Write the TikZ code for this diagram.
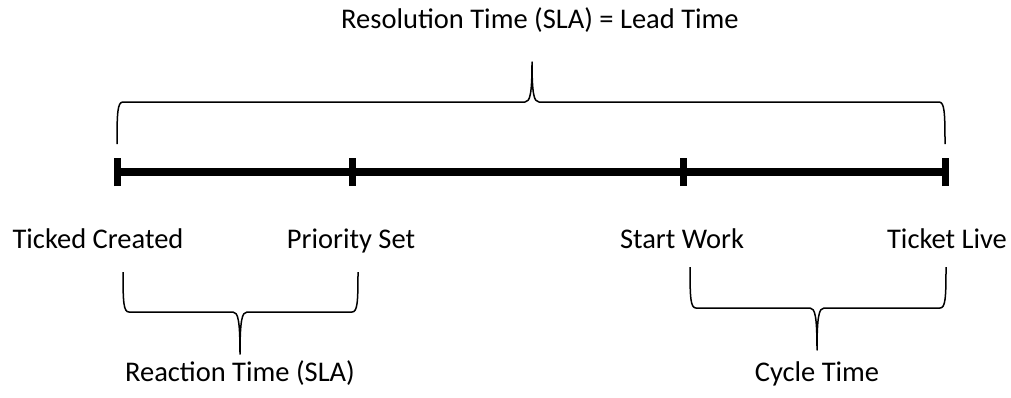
\documentclass[tikz,border=0pt]{standalone}
\usepackage{fontspec}
\setmainfont{Carlito}
\tikzset{
  axis/.style={line width=7.5pt},
  tickmark/.style={line width=7pt},
  bracket/.style={line width=1.5pt, line join=round},
  lbl/.style={font=\fontsize{28.5}{32}\selectfont, anchor=base, inner sep=0pt},
}
% curly brace: #1 left x, #2 right x, #3 middle x, #4 end y, #5 bar y, #6 tip y
\newcommand\curlybrace[6]{%
  \draw[bracket] (#1,#4)
    .. controls (#1,{#5+0.25*(#4-#5)}) and ({#1+0.5},#5) .. ({#1+6},#5)
    -- ({#3-7},#5)
    .. controls ({#3-2},#5) and (#3,{#5+0.2*(#6-#5)}) .. (#3,#6)
    .. controls (#3,{#5+0.2*(#6-#5)}) and ({#3+2},#5) .. ({#3+7},#5)
    -- ({#2-6},#5)
    .. controls ({#2-0.5},#5) and (#2,{#5+0.25*(#4-#5)}) .. (#2,#4);}
\begin{document}
\begin{tikzpicture}[x=1pt,y=-1pt]
\useasboundingbox (0,0) rectangle (1011,397);
% timeline points
\coordinate (created) at (117,172);
\coordinate (priority) at (352,172);
\coordinate (start) at (683,172);
\coordinate (live) at (945,172);
\draw[axis] (created) -- (live);
\foreach \p in {created,priority,start,live}
  \draw[tickmark] ([yshift=-14pt]\p) -- ([yshift=14pt]\p);
% point labels
\node[lbl] (lcreated) at (98,248) {Ticked Created};
\node[lbl] (lpriority) at (351,248) {Priority Set};
\node[lbl] (lstart) at (682,248) {Start Work};
\node[lbl] (llive) at (947,248) {Ticket Live};
% spans
\curlybrace{117}{945}{532}{144}{102}{62}
\node[lbl] (lead) at (540,28) {Resolution Time (SLA) = Lead Time};
\curlybrace{123}{358}{240}{272}{312}{354}
\node[lbl] (reaction) at (240,381) {Reaction Time (SLA)};
\curlybrace{690}{946}{817}{267}{308}{350}
\node[lbl] (cycle) at (817,381) {Cycle Time};
\end{tikzpicture}
\end{document}
